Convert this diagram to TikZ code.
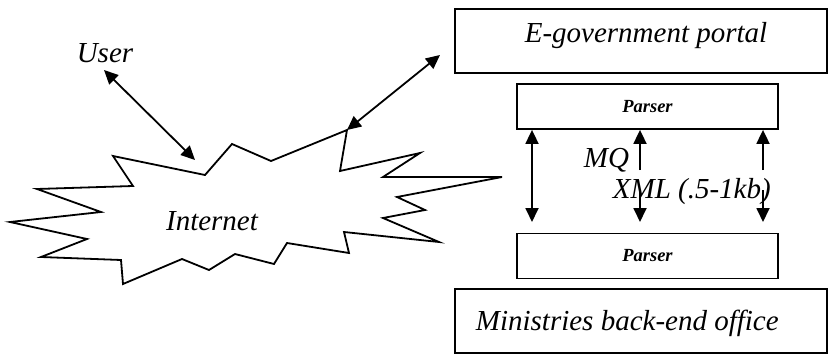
\documentclass[tikz,border=0pt]{standalone}
\usepackage{fontspec}
\setmainfont{Liberation Serif}
\usetikzlibrary{arrows.meta}
\begin{document}
\begin{tikzpicture}[x=1pt,y=-1pt,
  line width=1.8pt,
  head/.tip={Triangle[length=14pt,width=13pt]},
  tip/.style={-head},
  both/.style={head-head},
  bigtext/.style={font=\fontsize{29}{34}\selectfont\itshape, inner sep=0pt},
  parsebox/.style={draw, minimum width=261pt, minimum height=45pt, inner sep=0pt,
    font=\fontsize{18.5}{22}\selectfont\bfseries\itshape},
  panel/.style={draw, minimum width=372pt, minimum height=64pt, inner sep=0pt}
]
\useasboundingbox (0,0) rectangle (828,356);

% application side
\node[panel] (portal) at (641,41) {};
\node[bigtext, anchor=base] (portaltxt) at (646,42) {E-government portal};
\node[parsebox] (p1) at (647.5,106.5) {Parser};
\node[parsebox] (p2) at (647.5,256) {Parser};
\node[panel] (back) at (641,321) {};
\node[bigtext, anchor=base west] (backtxt) at (475,330) {Ministries back-end office};

% the Internet cloud
\draw[line join=miter]
  (232,144) -- (271,161) -- (347,130) coordinate (peak) -- (340,171) -- (420,153)
  -- (383,177) -- (502,177) -- (397,197) -- (425,210) -- (383,218) -- (439,242)
  -- (344,232) -- (349,253) -- (287,243) -- (274,264) -- (235,254) -- (209,270)
  -- (182,259) -- (123,284) -- (121,260) -- (41,257) -- (87,239) -- (10,222)
  -- (101,212) -- (37,189) -- (133,186) -- (113,156) -- (205,175) -- cycle;
\node[bigtext, anchor=base] (net) at (212,230) {Internet};

% user link
\node[bigtext, anchor=base] (user) at (105,62) {User};
\coordinate (uA) at (104,70);
\coordinate (uB) at (195,160);
\draw[both] (uA) -- (uB);

% cloud to portal
\coordinate (pA) at (440,55);
\draw[both] (peak) -- (pA);

% message queue between the parsers
\coordinate (c1) at (532,222);
\draw[both] (p1.south -| c1) -- (c1);

\coordinate (m1) at (640,170);
\coordinate (m2) at (640,192);
\coordinate (m3) at (640,222);
\draw[tip] (m1) -- (p1.south -| m1);
\draw[tip] (m2) -- (m3);

\coordinate (r1) at (763,170);
\coordinate (r2) at (763,190);
\coordinate (r3) at (763,222);
\draw[tip] (r1) -- (p1.south -| r1);
\draw[tip] (r2) -- (r3);

\node[bigtext, anchor=base west] (mq) at (583,167) {MQ};
\node[bigtext, anchor=base west] (xml) at (612,198) {XML (.5-1kb)};
\end{tikzpicture}
\end{document}
